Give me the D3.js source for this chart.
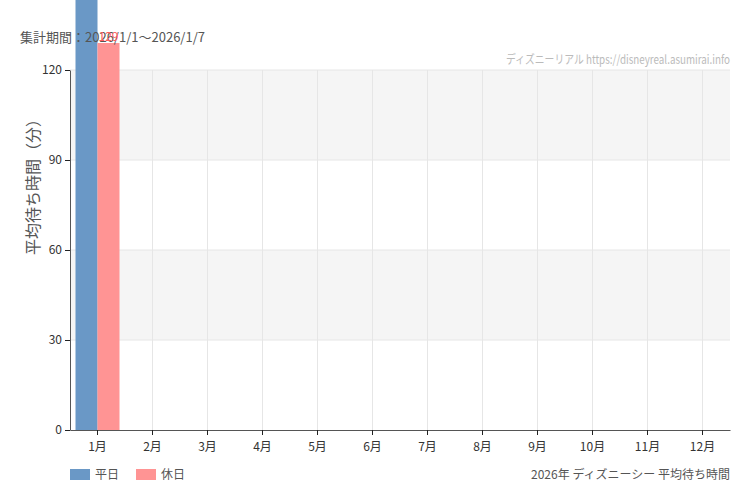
<!DOCTYPE html>
<html>
<head>
<meta charset="utf-8">
<script src="https://cdn.jsdelivr.net/npm/d3@7"></script>
<style>
  body { margin: 0; background: #fff; }
  text { font-family: "Noto Sans CJK JP", "Noto Sans", sans-serif; }
</style>
</head>
<body>
<script>
var months = ["1月","2月","3月","4月","5月","6月","7月","8月","9月","10月","11月","12月"];
var seriesNames = ["平日", "休日"];
var weekday = [150, null, null, null, null, null, null, null, null, null, null, null];
var holiday = [129, null, null, null, null, null, null, null, null, null, null, null];
var yTicks = [0, 30, 60, 90, 120];
var colors = ["#6a98c6", "#ff9494"];

var width = 750, height = 500;
var mLeft = 70, mRight = 730, mTop = 70, mBottom = 430;

var svg = d3.select("body").append("svg")
  .attr("width", width)
  .attr("height", height);

var x = d3.scaleBand().domain(months).range([mLeft, mRight]);
var xs = d3.scaleBand().domain(seriesNames).range([0, x.bandwidth()]).paddingOuter(0.25).paddingInner(0);
var y = d3.scaleLinear().domain([0, 120]).range([mBottom, mTop]);

// alternate bands
for (var i = 0; i < yTicks.length - 1; i++) {
  if (i % 2 == 1) {
    svg.append("rect")
      .attr("x", mLeft).attr("width", mRight - mLeft)
      .attr("y", y(yTicks[i + 1])).attr("height", y(yTicks[i]) - y(yTicks[i + 1]))
      .attr("fill", "#f5f5f5");
  }
}

// grid lines
svg.append("g").selectAll("line").data(yTicks.slice(1)).enter().append("line")
  .attr("x1", mLeft).attr("x2", mRight)
  .attr("y1", function (d) { return y(d) }).attr("y2", function (d) { return y(d) })
  .attr("stroke", "#e6e6e6");
svg.append("g").selectAll("line").data(months).enter().append("line")
  .attr("x1", function (d) { return x(d) + x.bandwidth() / 2 })
  .attr("x2", function (d) { return x(d) + x.bandwidth() / 2 })
  .attr("y1", mTop).attr("y2", mBottom)
  .attr("stroke", "#e6e6e6");

// bars
var series = [weekday, holiday];
var labelLayer = [];
series.forEach(function (vals, s) {
  var data = months.map(function (m, i) { return { m: m, v: vals[i] } })
    .filter(function (d) { return d.v != null });
  svg.append("g").selectAll("rect").data(data).enter().append("rect")
    .attr("x", function (d) { return x(d.m) + xs(seriesNames[s]) })
    .attr("width", xs.bandwidth())
    .attr("y", function (d) { return y(d.v) })
    .attr("height", function (d) { return mBottom - y(d.v) })
    .attr("fill", colors[s]);
  labelLayer.push({ s: s, data: data });
});

// period text (over the bars)
svg.append("text")
  .attr("x", 20).attr("y", 42)
  .attr("font-size", 13)
  .attr("fill", "#555")
  .text("集計期間：2026/1/1～2026/1/7");

// value labels
labelLayer.forEach(function (l) {
  svg.append("g").selectAll("text").data(l.data).enter().append("text")
    .attr("x", function (d) { return x(d.m) + xs(seriesNames[l.s]) + xs.bandwidth() / 2 })
    .attr("y", function (d) { return y(d.v) - 2 })
    .attr("text-anchor", "middle")
    .attr("font-size", 12)
    .attr("fill", l.s == 0 ? "#4a78b0" : "#ff5c5c")
    .text(function (d) { return d.v });
});

// axes
var yAxis = svg.append("g")
  .attr("transform", "translate(" + mLeft + ",0)")
  .call(d3.axisLeft(y).tickValues(yTicks).tickSize(5).tickSizeOuter(0));
var xAxis = svg.append("g")
  .attr("transform", "translate(0," + mBottom + ")")
  .call(d3.axisBottom(x).tickSize(5).tickSizeOuter(0));
[xAxis, yAxis].forEach(function (a) {
  a.select(".domain").attr("stroke", "#555");
  a.selectAll(".tick line").attr("stroke", "#222");
  a.selectAll(".tick text")
    .attr("font-size", 12)
    .attr("fill", "#333")
    .style("font-family", "'Noto Sans CJK JP', sans-serif");
});
xAxis.selectAll(".tick text").attr("dy", "1.1em");

// y title
svg.append("text")
  .attr("transform", "translate(33,183) rotate(-90)")
  .attr("text-anchor", "middle")
  .attr("dy", "0.35em")
  .attr("font-size", 16)
  .attr("fill", "#555")
  .text("平均待ち時間（分）");

// watermark
svg.append("text")
  .attr("x", mRight).attr("y", 64)
  .attr("text-anchor", "end")
  .attr("font-size", 12)
  .attr("fill", "#bbb")
  .attr("textLength", 224)
  .attr("lengthAdjust", "spacingAndGlyphs")
  .text("ディズニーリアル https://disneyreal.asumirai.info");

// legend
var legend = svg.append("g").selectAll("g").data(seriesNames).enter().append("g")
  .attr("transform", function (d, i) { return "translate(" + (70 + i * 66) + ",469)" });
legend.append("rect")
  .attr("width", 20).attr("height", 11)
  .attr("fill", function (d, i) { return colors[i] });
legend.append("text")
  .attr("x", 25).attr("y", 10)
  .attr("font-size", 12)
  .attr("fill", "#555")
  .text(function (d) { return d });

// caption
svg.append("text")
  .attr("x", mRight).attr("y", 479)
  .attr("text-anchor", "end")
  .attr("font-size", 12)
  .attr("fill", "#555")
  .text("2026年 ディズニーシー 平均待ち時間");
</script>
</body>
</html>
